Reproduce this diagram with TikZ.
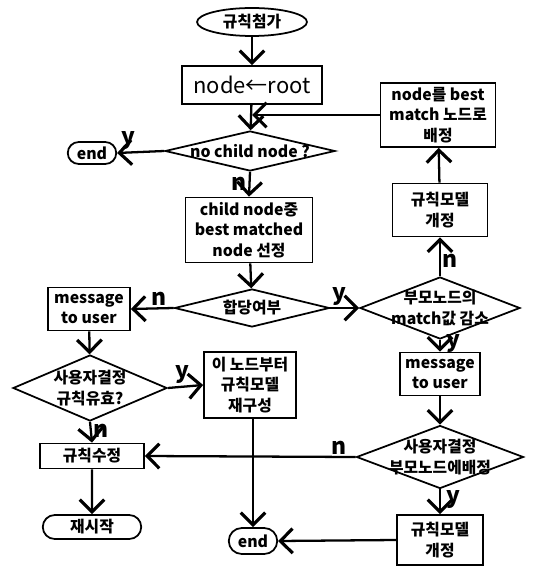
\documentclass[tikz,border=0pt]{standalone}
\usepackage{fontspec}
\setmainfont{Noto Sans CJK KR}
\usepackage{tikz}
\usetikzlibrary{shapes.geometric,shapes.misc,arrows.meta}

\begin{document}
\begin{tikzpicture}[x=0.02cm,y=-0.02cm,
    box/.style={draw,line width=1pt,rectangle,align=center,inner sep=1pt,font=\bfseries\fontsize{9}{11.5}\selectfont},
    dia/.style={draw,line width=1pt,diamond,align=center,inner xsep=-2cm,inner ysep=-1cm,font=\bfseries\fontsize{9}{11.5}\selectfont},
    term/.style={draw,line width=1pt,rounded rectangle,inner sep=1pt,font=\bfseries\fontsize{9}{11.5}\selectfont},
    flow/.style={line width=1.3pt,-{Straight Barb[length=7pt,width=14pt,line width=1.8pt]}},
    yn/.style={font=\bfseries\fontsize{13}{13}\selectfont,inner sep=1pt}]

    % Frame
    \useasboundingbox (0,0) rectangle (533,567);

    % Left and middle column
    \node[draw,line width=1pt,ellipse,minimum width=2.2cm,minimum height=0.56cm,inner sep=0pt,font=\bfseries\fontsize{9}{11.5}\selectfont] (start) at (252,22) {규칙첨가};
    \node[box,minimum width=2.8cm,minimum height=0.76cm,font=\fontsize{12.5}{14}\selectfont] (root) at (252,85) {node←root};
    \node[dia,minimum width=3.4cm,minimum height=0.8cm] (nochild) at (250,151) {no child node ?};
    \node[term,minimum width=1.04cm,minimum height=0.44cm] (endA) at (92,153) {end};
    \node[box,minimum width=2.54cm,minimum height=1.3cm] (select) at (249,230) {child node중\\best matched\\node 선정};
    \node[dia,minimum width=3.1cm,minimum height=0.76cm] (fit) at (252,308) {합당여부};
    \node[box,minimum width=1.64cm,minimum height=0.86cm] (msgL) at (89,309) {message\\to user};
    \node[dia,minimum width=3.08cm,minimum height=1.32cm] (valid) at (90,388) {사용자결정\\규칙유효?};
    \node[box,minimum width=1.84cm,minimum height=1.32cm] (rebuild) at (250,385) {이 노드부터\\규칙모델\\재구성};
    \node[box,minimum width=2.08cm,minimum height=0.5cm] (modify) at (92,456) {규칙수정};
    \node[term,minimum width=2.04cm,minimum height=0.48cm] (restart) at (92,527) {재시작};
    \node[term,minimum width=1.04cm,minimum height=0.52cm] (endB) at (253,541) {end};

    % Right column
    \node[box,minimum width=2.3cm,minimum height=1.28cm] (assign) at (438,115) {node를 best\\match 노드로\\배정};
    \node[box,minimum width=1.9cm,minimum height=1.06cm] (reviseA) at (440,210) {규칙모델\\개정};
    \node[dia,minimum width=3.2cm,minimum height=1.24cm] (lower) at (440,308) {부모노드의\\match값 감소};
    \node[box,minimum width=1.6cm,minimum height=0.86cm] (msgR) at (440,374) {message\\to user};
    \node[dia,minimum width=3.34cm,minimum height=1.26cm] (parent) at (440,457) {사용자결정\\부모노드에배정};
    \node[box,minimum width=1.72cm,minimum height=1.0cm] (reviseB) at (440,540) {규칙모델\\개정};

    % Draw connectors
    \draw[flow] (start) -- (root);
    \draw[flow] (root) -- (nochild);
    \draw[flow] (nochild.west) -- node[yn,above,pos=0.75] (yA) {y} (endA.east);
    \draw[flow] (nochild.south) -- node[yn,left,pos=0.5] (nA) {n} (select.north);
    \draw[flow] (select) -- (fit);
    \draw[flow] (fit.west) -- node[yn,above,pos=0.35] (nB) {n} (msgL.east);
    \draw[flow] (fit.east) -- node[yn,above,pos=0.3] (yB) {y} (lower.west);
    \draw[flow] (msgL) -- (valid);
    \draw[flow] (valid.east) -- node[yn,above,pos=0.4] (yC) {y} (rebuild.west);
    \draw[flow] (valid.south) -- node[yn,right,pos=0.45] (nC) {n} (modify.north);
    \draw[flow] (modify) -- (restart);
    \draw[flow] (rebuild.south -| endB.north) -- (endB.north);
    \draw[flow] (lower.north) -- node[yn,right,pos=0.4] (nD) {n} (reviseA.south);
    \draw[flow] (reviseA) -- (assign);
    \draw[flow] (assign.west) -- (assign.west -| root.south);
    \draw[flow] (lower.south) -- node[yn,right,pos=0.3,xshift=2pt] (yD) {y} (msgR.north);
    \draw[flow] (msgR) -- (parent);
    \draw[flow] (parent.west) -- node[yn,above,pos=0.08] (nE) {n} (modify.east);
    \draw[flow] (parent.south) -- node[yn,right,pos=0.4,xshift=2pt] (yE) {y} (reviseB.north);
    \draw[flow] (reviseB.west) -- (endB.east);
\end{tikzpicture}
\end{document}
